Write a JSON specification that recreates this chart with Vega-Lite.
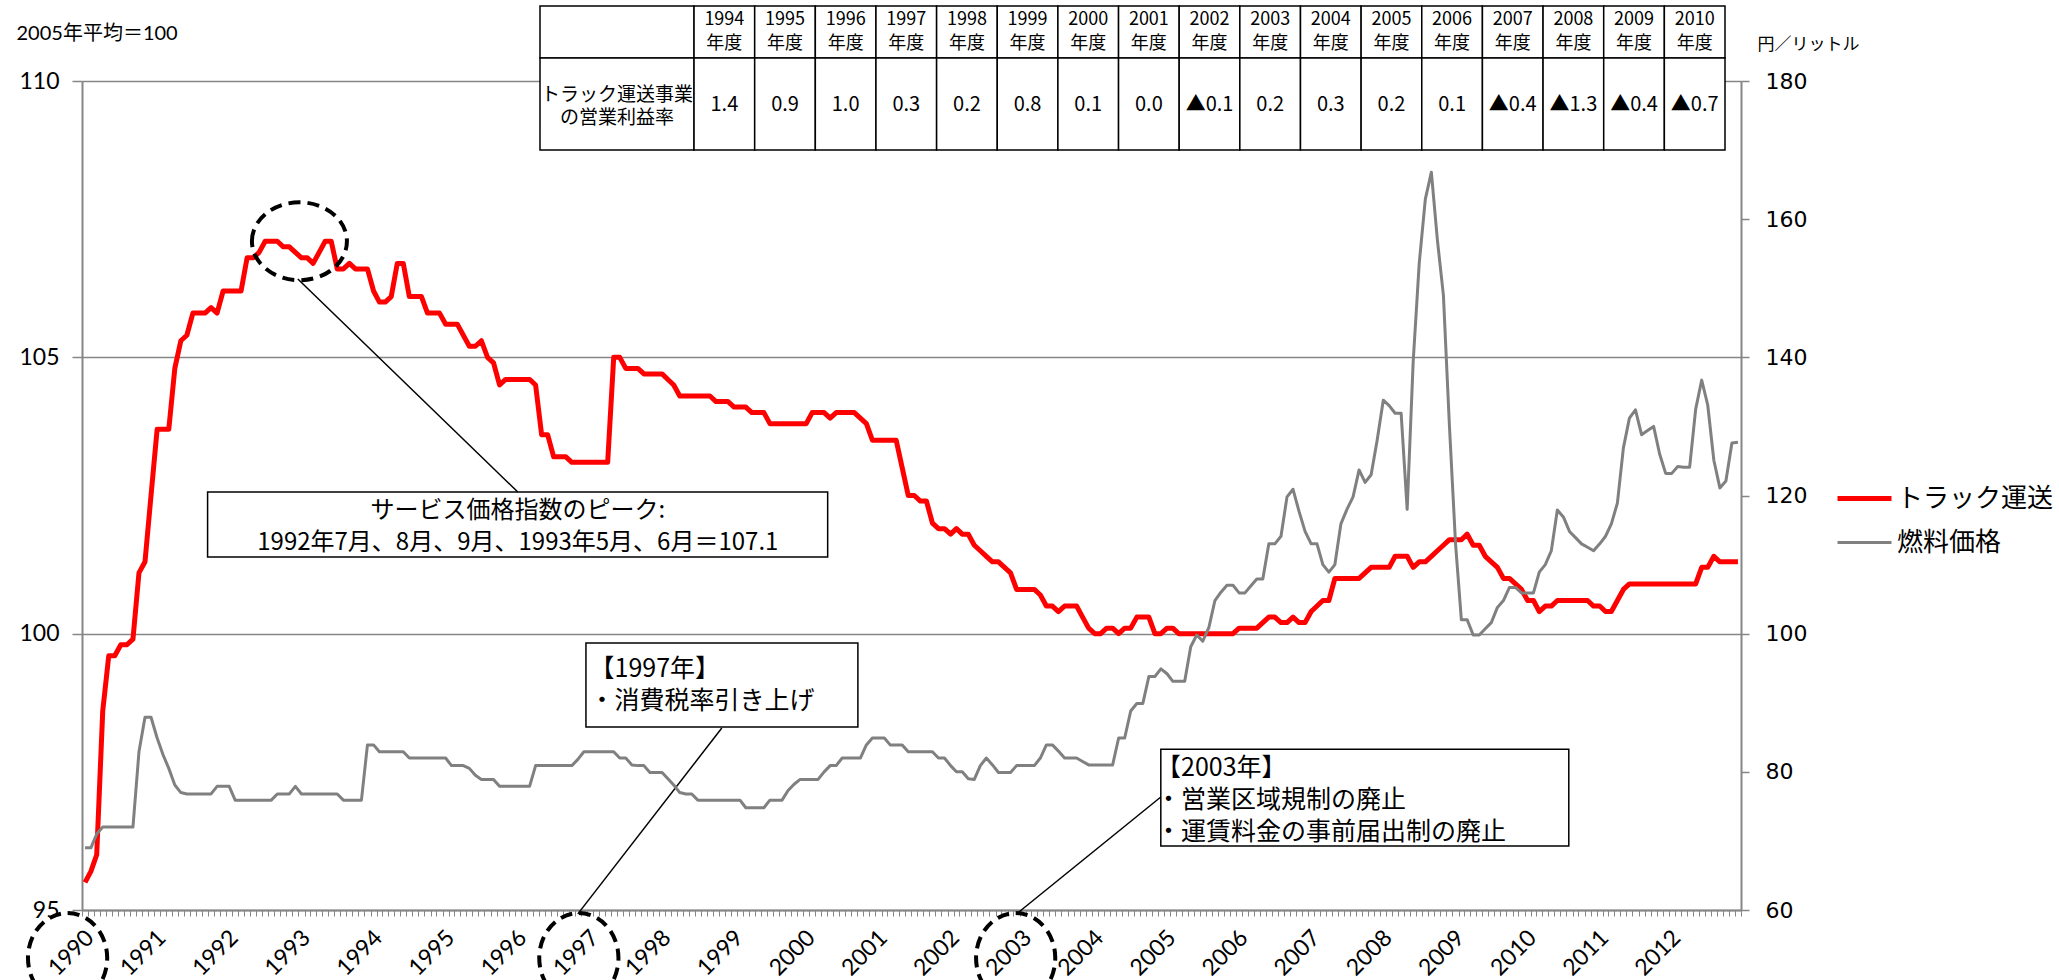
{
  "$schema": "https://vega.github.io/schema/vega-lite/v6.json",
  "width": 1659,
  "height": 829,
  "autosize": {"type": "none"},
  "padding": {"left": 82, "top": 81, "right": 318, "bottom": 70},
  "background": "#ffffff",
  "config": {"view": {"stroke": null}},
  "datasets": {
    "main": [
      {"d":"1990-01","t":95.5,"f":69.0},{"d":"1990-02","t":95.7,"f":69.0},{"d":"1990-03","t":96.0,"f":71.0},{"d":"1990-04","t":98.6,"f":72.0},{"d":"1990-05","t":99.6,"f":72.0},{"d":"1990-06","t":99.6,"f":72.0},{"d":"1990-07","t":99.8,"f":72.0},{"d":"1990-08","t":99.8,"f":72.0},{"d":"1990-09","t":99.9,"f":72.0},{"d":"1990-10","t":101.1,"f":82.9},{"d":"1990-11","t":101.3,"f":87.9},{"d":"1990-12","t":102.5,"f":87.9},
      {"d":"1991-01","t":103.7,"f":84.9},{"d":"1991-02","t":103.7,"f":82.5},{"d":"1991-03","t":103.7,"f":80.5},{"d":"1991-04","t":104.8,"f":78.1},{"d":"1991-05","t":105.3,"f":77.0},{"d":"1991-06","t":105.4,"f":76.8},{"d":"1991-07","t":105.8,"f":76.8},{"d":"1991-08","t":105.8,"f":76.8},{"d":"1991-09","t":105.8,"f":76.8},{"d":"1991-10","t":105.9,"f":76.8},{"d":"1991-11","t":105.8,"f":77.9},{"d":"1991-12","t":106.2,"f":77.9},
      {"d":"1992-01","t":106.2,"f":77.9},{"d":"1992-02","t":106.2,"f":75.9},{"d":"1992-03","t":106.2,"f":75.9},{"d":"1992-04","t":106.8,"f":75.9},{"d":"1992-05","t":106.8,"f":75.9},{"d":"1992-06","t":106.9,"f":75.9},{"d":"1992-07","t":107.1,"f":75.9},{"d":"1992-08","t":107.1,"f":75.9},{"d":"1992-09","t":107.1,"f":76.8},{"d":"1992-10","t":107.0,"f":76.8},{"d":"1992-11","t":107.0,"f":76.8},{"d":"1992-12","t":106.9,"f":77.9},
      {"d":"1993-01","t":106.8,"f":76.8},{"d":"1993-02","t":106.8,"f":76.8},{"d":"1993-03","t":106.7,"f":76.8},{"d":"1993-04","t":106.9,"f":76.8},{"d":"1993-05","t":107.1,"f":76.8},{"d":"1993-06","t":107.1,"f":76.8},{"d":"1993-07","t":106.6,"f":76.8},{"d":"1993-08","t":106.6,"f":75.9},{"d":"1993-09","t":106.7,"f":75.9},{"d":"1993-10","t":106.6,"f":75.9},{"d":"1993-11","t":106.6,"f":75.9},{"d":"1993-12","t":106.6,"f":83.9},
      {"d":"1994-01","t":106.2,"f":83.9},{"d":"1994-02","t":106.0,"f":82.9},{"d":"1994-03","t":106.0,"f":82.9},{"d":"1994-04","t":106.1,"f":82.9},{"d":"1994-05","t":106.7,"f":82.9},{"d":"1994-06","t":106.7,"f":82.9},{"d":"1994-07","t":106.1,"f":82.0},{"d":"1994-08","t":106.1,"f":82.0},{"d":"1994-09","t":106.1,"f":82.0},{"d":"1994-10","t":105.8,"f":82.0},{"d":"1994-11","t":105.8,"f":82.0},{"d":"1994-12","t":105.8,"f":82.0},
      {"d":"1995-01","t":105.6,"f":82.0},{"d":"1995-02","t":105.6,"f":80.9},{"d":"1995-03","t":105.6,"f":80.9},{"d":"1995-04","t":105.4,"f":80.9},{"d":"1995-05","t":105.2,"f":80.5},{"d":"1995-06","t":105.2,"f":79.5},{"d":"1995-07","t":105.3,"f":78.9},{"d":"1995-08","t":105.0,"f":78.9},{"d":"1995-09","t":104.9,"f":78.9},{"d":"1995-10","t":104.5,"f":77.9},{"d":"1995-11","t":104.6,"f":77.9},{"d":"1995-12","t":104.6,"f":77.9},
      {"d":"1996-01","t":104.6,"f":77.9},{"d":"1996-02","t":104.6,"f":77.9},{"d":"1996-03","t":104.6,"f":77.9},{"d":"1996-04","t":104.5,"f":80.9},{"d":"1996-05","t":103.6,"f":80.9},{"d":"1996-06","t":103.6,"f":80.9},{"d":"1996-07","t":103.2,"f":80.9},{"d":"1996-08","t":103.2,"f":80.9},{"d":"1996-09","t":103.2,"f":80.9},{"d":"1996-10","t":103.1,"f":80.9},{"d":"1996-11","t":103.1,"f":81.8},{"d":"1996-12","t":103.1,"f":82.9},
      {"d":"1997-01","t":103.1,"f":82.9},{"d":"1997-02","t":103.1,"f":82.9},{"d":"1997-03","t":103.1,"f":82.9},{"d":"1997-04","t":103.1,"f":82.9},{"d":"1997-05","t":105.0,"f":82.9},{"d":"1997-06","t":105.0,"f":82.0},{"d":"1997-07","t":104.8,"f":82.0},{"d":"1997-08","t":104.8,"f":81.0},{"d":"1997-09","t":104.8,"f":80.9},{"d":"1997-10","t":104.7,"f":80.9},{"d":"1997-11","t":104.7,"f":79.9},{"d":"1997-12","t":104.7,"f":79.9},
      {"d":"1998-01","t":104.7,"f":79.9},{"d":"1998-02","t":104.6,"f":79.0},{"d":"1998-03","t":104.5,"f":78.1},{"d":"1998-04","t":104.3,"f":77.0},{"d":"1998-05","t":104.3,"f":76.8},{"d":"1998-06","t":104.3,"f":76.8},{"d":"1998-07","t":104.3,"f":75.9},{"d":"1998-08","t":104.3,"f":75.9},{"d":"1998-09","t":104.3,"f":75.9},{"d":"1998-10","t":104.2,"f":75.9},{"d":"1998-11","t":104.2,"f":75.9},{"d":"1998-12","t":104.2,"f":75.9},
      {"d":"1999-01","t":104.1,"f":75.9},{"d":"1999-02","t":104.1,"f":75.9},{"d":"1999-03","t":104.1,"f":74.8},{"d":"1999-04","t":104.0,"f":74.8},{"d":"1999-05","t":104.0,"f":74.8},{"d":"1999-06","t":104.0,"f":74.8},{"d":"1999-07","t":103.8,"f":75.9},{"d":"1999-08","t":103.8,"f":75.9},{"d":"1999-09","t":103.8,"f":75.9},{"d":"1999-10","t":103.8,"f":77.3},{"d":"1999-11","t":103.8,"f":78.2},{"d":"1999-12","t":103.8,"f":78.9},
      {"d":"2000-01","t":103.8,"f":78.9},{"d":"2000-02","t":104.0,"f":78.9},{"d":"2000-03","t":104.0,"f":78.9},{"d":"2000-04","t":104.0,"f":80.0},{"d":"2000-05","t":103.9,"f":80.9},{"d":"2000-06","t":104.0,"f":80.9},{"d":"2000-07","t":104.0,"f":82.0},{"d":"2000-08","t":104.0,"f":82.0},{"d":"2000-09","t":104.0,"f":82.0},{"d":"2000-10","t":103.9,"f":82.0},{"d":"2000-11","t":103.8,"f":83.9},{"d":"2000-12","t":103.5,"f":84.9},
      {"d":"2001-01","t":103.5,"f":84.9},{"d":"2001-02","t":103.5,"f":84.9},{"d":"2001-03","t":103.5,"f":83.9},{"d":"2001-04","t":103.5,"f":83.9},{"d":"2001-05","t":103.0,"f":83.9},{"d":"2001-06","t":102.5,"f":82.9},{"d":"2001-07","t":102.5,"f":82.9},{"d":"2001-08","t":102.4,"f":82.9},{"d":"2001-09","t":102.4,"f":82.9},{"d":"2001-10","t":102.0,"f":82.9},{"d":"2001-11","t":101.9,"f":82.0},{"d":"2001-12","t":101.9,"f":82.0},
      {"d":"2002-01","t":101.8,"f":80.9},{"d":"2002-02","t":101.9,"f":80.0},{"d":"2002-03","t":101.8,"f":80.0},{"d":"2002-04","t":101.8,"f":79.0},{"d":"2002-05","t":101.6,"f":78.9},{"d":"2002-06","t":101.5,"f":80.9},{"d":"2002-07","t":101.4,"f":82.0},{"d":"2002-08","t":101.3,"f":81.0},{"d":"2002-09","t":101.3,"f":79.9},{"d":"2002-10","t":101.2,"f":79.9},{"d":"2002-11","t":101.1,"f":79.9},{"d":"2002-12","t":100.8,"f":80.9},
      {"d":"2003-01","t":100.8,"f":80.9},{"d":"2003-02","t":100.8,"f":80.9},{"d":"2003-03","t":100.8,"f":80.9},{"d":"2003-04","t":100.7,"f":82.0},{"d":"2003-05","t":100.5,"f":83.9},{"d":"2003-06","t":100.5,"f":83.9},{"d":"2003-07","t":100.4,"f":83.0},{"d":"2003-08","t":100.5,"f":82.0},{"d":"2003-09","t":100.5,"f":82.0},{"d":"2003-10","t":100.5,"f":82.0},{"d":"2003-11","t":100.3,"f":81.5},{"d":"2003-12","t":100.1,"f":81.0},
      {"d":"2004-01","t":100.0,"f":81.0},{"d":"2004-02","t":100.0,"f":81.0},{"d":"2004-03","t":100.1,"f":81.0},{"d":"2004-04","t":100.1,"f":81.0},{"d":"2004-05","t":100.0,"f":84.9},{"d":"2004-06","t":100.1,"f":84.9},{"d":"2004-07","t":100.1,"f":88.8},{"d":"2004-08","t":100.3,"f":89.9},{"d":"2004-09","t":100.3,"f":89.9},{"d":"2004-10","t":100.3,"f":93.8},{"d":"2004-11","t":100.0,"f":93.8},{"d":"2004-12","t":100.0,"f":94.9},
      {"d":"2005-01","t":100.1,"f":94.2},{"d":"2005-02","t":100.1,"f":93.1},{"d":"2005-03","t":100.0,"f":93.1},{"d":"2005-04","t":100.0,"f":93.1},{"d":"2005-05","t":100.0,"f":98.1},{"d":"2005-06","t":100.0,"f":99.8},{"d":"2005-07","t":100.0,"f":98.9},{"d":"2005-08","t":100.0,"f":100.9},{"d":"2005-09","t":100.0,"f":104.8},{"d":"2005-10","t":100.0,"f":106.0},{"d":"2005-11","t":100.0,"f":107.0},{"d":"2005-12","t":100.0,"f":107.0},
      {"d":"2006-01","t":100.1,"f":105.9},{"d":"2006-02","t":100.1,"f":105.9},{"d":"2006-03","t":100.1,"f":106.9},{"d":"2006-04","t":100.1,"f":107.9},{"d":"2006-05","t":100.2,"f":107.9},{"d":"2006-06","t":100.3,"f":113.0},{"d":"2006-07","t":100.3,"f":113.0},{"d":"2006-08","t":100.2,"f":114.1},{"d":"2006-09","t":100.2,"f":119.8},{"d":"2006-10","t":100.3,"f":120.9},{"d":"2006-11","t":100.2,"f":117.7},{"d":"2006-12","t":100.2,"f":114.8},
      {"d":"2007-01","t":100.4,"f":113.0},{"d":"2007-02","t":100.5,"f":113.0},{"d":"2007-03","t":100.6,"f":110.0},{"d":"2007-04","t":100.6,"f":108.9},{"d":"2007-05","t":101.0,"f":110.0},{"d":"2007-06","t":101.0,"f":115.9},{"d":"2007-07","t":101.0,"f":118.0},{"d":"2007-08","t":101.0,"f":119.8},{"d":"2007-09","t":101.0,"f":123.7},{"d":"2007-10","t":101.1,"f":121.9},{"d":"2007-11","t":101.2,"f":123.0},{"d":"2007-12","t":101.2,"f":128.0},
      {"d":"2008-01","t":101.2,"f":133.8},{"d":"2008-02","t":101.2,"f":133.0},{"d":"2008-03","t":101.4,"f":131.9},{"d":"2008-04","t":101.4,"f":131.9},{"d":"2008-05","t":101.4,"f":118.0},{"d":"2008-06","t":101.2,"f":139.4},{"d":"2008-07","t":101.3,"f":153.6},{"d":"2008-08","t":101.3,"f":162.9},{"d":"2008-09","t":101.4,"f":166.8},{"d":"2008-10","t":101.5,"f":157.0},{"d":"2008-11","t":101.6,"f":149.0},{"d":"2008-12","t":101.7,"f":130.1},
      {"d":"2009-01","t":101.7,"f":113.0},{"d":"2009-02","t":101.7,"f":102.0},{"d":"2009-03","t":101.8,"f":102.0},{"d":"2009-04","t":101.6,"f":99.8},{"d":"2009-05","t":101.6,"f":99.8},{"d":"2009-06","t":101.4,"f":100.7},{"d":"2009-07","t":101.3,"f":101.6},{"d":"2009-08","t":101.2,"f":103.8},{"d":"2009-09","t":101.0,"f":104.8},{"d":"2009-10","t":101.0,"f":106.7},{"d":"2009-11","t":100.9,"f":106.7},{"d":"2009-12","t":100.8,"f":105.9},
      {"d":"2010-01","t":100.6,"f":105.9},{"d":"2010-02","t":100.6,"f":105.9},{"d":"2010-03","t":100.4,"f":108.9},{"d":"2010-04","t":100.5,"f":110.0},{"d":"2010-05","t":100.5,"f":112.0},{"d":"2010-06","t":100.6,"f":117.9},{"d":"2010-07","t":100.6,"f":116.9},{"d":"2010-08","t":100.6,"f":114.8},{"d":"2010-09","t":100.6,"f":113.9},{"d":"2010-10","t":100.6,"f":113.0},{"d":"2010-11","t":100.6,"f":112.5},{"d":"2010-12","t":100.5,"f":112.0},
      {"d":"2011-01","t":100.5,"f":113.0},{"d":"2011-02","t":100.4,"f":114.1},{"d":"2011-03","t":100.4,"f":115.9},{"d":"2011-04","t":100.6,"f":118.9},{"d":"2011-05","t":100.8,"f":126.9},{"d":"2011-06","t":100.9,"f":131.2},{"d":"2011-07","t":100.9,"f":132.4},{"d":"2011-08","t":100.9,"f":128.8},{"d":"2011-09","t":100.9,"f":129.4},{"d":"2011-10","t":100.9,"f":130.0},{"d":"2011-11","t":100.9,"f":126.0},{"d":"2011-12","t":100.9,"f":123.2},
      {"d":"2012-01","t":100.9,"f":123.2},{"d":"2012-02","t":100.9,"f":124.2},{"d":"2012-03","t":100.9,"f":124.1},{"d":"2012-04","t":100.9,"f":124.1},{"d":"2012-05","t":100.9,"f":132.5},{"d":"2012-06","t":101.2,"f":136.7},{"d":"2012-07","t":101.2,"f":133.1},{"d":"2012-08","t":101.4,"f":125.1},{"d":"2012-09","t":101.3,"f":121.1},{"d":"2012-10","t":101.3,"f":122.1},{"d":"2012-11","t":101.3,"f":127.6},{"d":"2012-12","t":101.3,"f":127.7}
    ],
    "boxes": [
      {"x0":"1991-09-29","x1":"2000-05-04","y0":102.563,"y1":101.387},
      {"x0":"1996-12-27","x1":"2000-10-04","y0":99.83,"y1":98.31},
      {"x0":"2004-12-16","x1":"2010-08-13","y0":97.91,"y1":96.16}
    ],
    "leaders": [
      {"x0":"1992-12-29","y0":106.417,"x1":"1996-01-17","y1":102.563},
      {"x0":"1998-11-15","y0":98.293,"x1":"1996-11-16","y1":94.93},
      {"x0":"2004-12-16","y0":97.044,"x1":"2002-12-22","y1":94.946}
    ],
    "ctext": [
      {"x":"1996-01-17","y":102.22,"t":["サービス価格指数のピーク:","1992年7月、8月、9月、1993年5月、6月＝107.1"]}
    ],
    "ltext": [
      {"x":"1997-01-14","y":99.36,"t":["【1997年】","・消費税率引き上げ"]},
      {"x":"2004-11-22","y":97.57,"t":["【2003年】","・営業区域規制の廃止","・運賃料金の事前届出制の廃止"]}
    ],
    "peak": [{"x":"1993-01-06","y":107.1}],
    "yrs": [
      {"x":"1989-10-20","y":94.13},
      {"x":"1996-11-21","y":94.13},
      {"x":"2002-12-12","y":94.13}
    ],
    "tbl": [
      {"a":-2.54,"b":0,"c":-1.27,"h":"","v":["トラック運送事業","の営業利益率"]},
      {"a":0,"b":1,"c":0.5,"h":["1994","年度"],"v":"1.4"},
      {"a":1,"b":2,"c":1.5,"h":["1995","年度"],"v":"0.9"},
      {"a":2,"b":3,"c":2.5,"h":["1996","年度"],"v":"1.0"},
      {"a":3,"b":4,"c":3.5,"h":["1997","年度"],"v":"0.3"},
      {"a":4,"b":5,"c":4.5,"h":["1998","年度"],"v":"0.2"},
      {"a":5,"b":6,"c":5.5,"h":["1999","年度"],"v":"0.8"},
      {"a":6,"b":7,"c":6.5,"h":["2000","年度"],"v":"0.1"},
      {"a":7,"b":8,"c":7.5,"h":["2001","年度"],"v":"0.0"},
      {"a":8,"b":9,"c":8.5,"h":["2002","年度"],"v":"▲0.1"},
      {"a":9,"b":10,"c":9.5,"h":["2003","年度"],"v":"0.2"},
      {"a":10,"b":11,"c":10.5,"h":["2004","年度"],"v":"0.3"},
      {"a":11,"b":12,"c":11.5,"h":["2005","年度"],"v":"0.2"},
      {"a":12,"b":13,"c":12.5,"h":["2006","年度"],"v":"0.1"},
      {"a":13,"b":14,"c":13.5,"h":["2007","年度"],"v":"▲0.4"},
      {"a":14,"b":15,"c":14.5,"h":["2008","年度"],"v":"▲1.3"},
      {"a":15,"b":16,"c":15.5,"h":["2009","年度"],"v":"▲0.4"},
      {"a":16,"b":17,"c":16.5,"h":["2010","年度"],"v":"▲0.7"}
    ]
  },
  "layer": [
    {
      "layer": [
        {
          "layer": [
            {
              "data": {"name": "main"},
              "mark": {"type": "line", "strokeJoin": "round"},
              "encoding": {
                "x": {
                  "field": "d", "type": "temporal", "timeUnit": "utcyearmonth", "bandPosition": 0.5,
                  "scale": {"type": "utc", "domain": [{"year": 1990, "month": 1, "date": 1, "utc": true}, {"year": 2013, "month": 1, "date": 1, "utc": true}]},
                  "axis": {
                    "title": null,
                    "tickCount": {"interval": "month", "step": 1},
                    "labelExpr": "(utcFormat(datum.value, '%m') == '01' && utcFormat(datum.value, '%Y') != '2013') ? utcFormat(datum.value, '%Y') : ''",
                    "labelAngle": -45, "labelFont": "Lato", "labelFontSize": 23, "labelColor": "#000000",
                    "labelOverlap": false, "labelFlush": false, "labelBound": false, "labelPadding": 10,
                    "tickSize": 6, "tickColor": "#868686", "tickWidth": 1,
                    "domainColor": "#868686", "domainWidth": 2, "grid": false
                  }
                },
                "y": {
                  "field": "t", "type": "quantitative",
                  "scale": {"domain": [95, 110], "nice": false, "zero": false},
                  "axis": {
                    "title": "2005年平均＝100", "titleAngle": 0, "titleX": -66, "titleY": -48,
                    "titleAlign": "left", "titleBaseline": "middle", "titleFont": "Lato, Noto Sans CJK JP",
                    "titleFontSize": 20, "titleFontWeight": "normal", "titleColor": "#000000",
                    "values": [95, 100, 105, 110], "labelFont": "Lato", "labelFontSize": 23, "labelColor": "#000000",
                    "labelPadding": 13, "tickSize": 10, "tickColor": "#868686", "tickWidth": 1.5,
                    "domainColor": "#868686", "domainWidth": 2,
                    "grid": true, "gridColor": "#868686", "gridWidth": 1.5
                  }
                },
                "color": {
                  "datum": "トラック運送", "type": "nominal",
                  "scale": {"domain": ["トラック運送", "燃料価格"], "range": ["#ff0000", "#808080"]},
                  "legend": {
                    "orient": "none", "legendX": 1753, "legendY": 388, "title": null,
                    "labelFont": "Noto Sans CJK JP", "labelFontSize": 26, "labelColor": "#000000", "labelLimit": 400,
                    "symbolType": "stroke", "symbolSize": 2916, "rowPadding": 2, "labelOffset": 3, "padding": 0
                  }
                },
                "strokeWidth": {
                  "datum": "トラック運送", "type": "nominal",
                  "scale": {"domain": ["トラック運送", "燃料価格"], "range": [5, 3]}
                }
              }
            },
            {
              "data": {"name": "boxes"},
              "mark": {"type": "rect", "fill": "#ffffff", "stroke": "#000000", "strokeWidth": 1.5},
              "encoding": {
                "x": {"field": "x0", "type": "temporal", "scale": {"type": "utc", "domain": [{"year": 1990, "month": 1, "date": 1, "utc": true}, {"year": 2013, "month": 1, "date": 1, "utc": true}]}},
                "x2": {"field": "x1"},
                "y": {"field": "y0", "type": "quantitative", "scale": {"domain": [95, 110], "nice": false, "zero": false}},
                "y2": {"field": "y1"}
              }
            },
            {
              "data": {"name": "leaders"},
              "mark": {"type": "rule", "color": "#000000", "strokeWidth": 1.5},
              "encoding": {
                "x": {"field": "x0", "type": "temporal", "scale": {"type": "utc", "domain": [{"year": 1990, "month": 1, "date": 1, "utc": true}, {"year": 2013, "month": 1, "date": 1, "utc": true}]}},
                "x2": {"field": "x1"},
                "y": {"field": "y0", "type": "quantitative", "scale": {"domain": [95, 110], "nice": false, "zero": false}},
                "y2": {"field": "y1"}
              }
            },
            {
              "data": {"name": "ctext"},
              "mark": {"type": "text", "font": "Noto Sans CJK JP", "fontSize": 24, "align": "center", "baseline": "middle", "lineHeight": 32, "color": "#000000"},
              "encoding": {
                "x": {"field": "x", "type": "temporal", "scale": {"type": "utc", "domain": [{"year": 1990, "month": 1, "date": 1, "utc": true}, {"year": 2013, "month": 1, "date": 1, "utc": true}]}},
                "y": {"field": "y", "type": "quantitative", "scale": {"domain": [95, 110], "nice": false, "zero": false}},
                "text": {"field": "t", "type": "nominal"}
              }
            },
            {
              "data": {"name": "ltext"},
              "mark": {"type": "text", "font": "Noto Sans CJK JP", "fontSize": 25, "align": "left", "baseline": "middle", "lineHeight": 32, "color": "#000000"},
              "encoding": {
                "x": {"field": "x", "type": "temporal", "scale": {"type": "utc", "domain": [{"year": 1990, "month": 1, "date": 1, "utc": true}, {"year": 2013, "month": 1, "date": 1, "utc": true}]}},
                "y": {"field": "y", "type": "quantitative", "scale": {"domain": [95, 110], "nice": false, "zero": false}},
                "text": {"field": "t", "type": "nominal"}
              }
            },
            {
              "data": {"name": "peak"},
              "mark": {"type": "point", "shape": "M-1,0A1,0.82,0,1,1,1,0A1,0.82,0,1,1,-1,0Z", "size": 9025, "filled": false, "color": "#000000", "strokeWidth": 4, "strokeDash": [12, 7], "opacity": 1},
              "encoding": {
                "x": {"field": "x", "type": "temporal", "scale": {"type": "utc", "domain": [{"year": 1990, "month": 1, "date": 1, "utc": true}, {"year": 2013, "month": 1, "date": 1, "utc": true}]}},
                "y": {"field": "y", "type": "quantitative", "scale": {"domain": [95, 110], "nice": false, "zero": false}}
              }
            },
            {
              "data": {"name": "yrs"},
              "mark": {"type": "point", "shape": "M0,-1A0.88,1,0,1,1,0,1A0.88,1,0,1,1,0,-1Z", "size": 8100, "filled": false, "color": "#000000", "strokeWidth": 4, "strokeDash": [12, 7], "opacity": 1},
              "encoding": {
                "x": {"field": "x", "type": "temporal", "scale": {"type": "utc", "domain": [{"year": 1990, "month": 1, "date": 1, "utc": true}, {"year": 2013, "month": 1, "date": 1, "utc": true}]}},
                "y": {"field": "y", "type": "quantitative", "scale": {"domain": [95, 110], "nice": false, "zero": false}}
              }
            }
          ]
        },
        {
          "data": {"name": "main"},
          "mark": {"type": "line", "strokeJoin": "round"},
          "encoding": {
            "x": {
              "field": "d", "type": "temporal", "timeUnit": "utcyearmonth", "bandPosition": 0.5,
              "scale": {"type": "utc", "domain": [{"year": 1990, "month": 1, "date": 1, "utc": true}, {"year": 2013, "month": 1, "date": 1, "utc": true}]}
            },
            "y": {
              "field": "f", "type": "quantitative",
              "scale": {"domain": [60, 180], "nice": false, "zero": false},
              "axis": {
                "orient": "right", "title": "円／リットル", "titleAngle": 0, "titleX": 16, "titleY": -37,
                "titleAlign": "left", "titleBaseline": "middle", "titleFont": "Noto Sans CJK JP",
                "titleFontSize": 17, "titleFontWeight": "normal", "titleColor": "#000000",
                "values": [60, 80, 100, 120, 140, 160, 180], "labelFont": "DejaVu Sans", "labelFontSize": 22,
                "labelColor": "#000000", "labelPadding": 16, "tickSize": 8, "tickColor": "#868686", "tickWidth": 1.5,
                "domainColor": "#868686", "domainWidth": 2, "grid": false
              }
            },
            "color": {
              "datum": "燃料価格", "type": "nominal",
              "scale": {"domain": ["トラック運送", "燃料価格"], "range": ["#ff0000", "#808080"]}
            },
            "strokeWidth": {
              "datum": "燃料価格", "type": "nominal",
              "scale": {"domain": ["トラック運送", "燃料価格"], "range": [5, 3]}
            }
          }
        }
      ],
      "resolve": {"scale": {"y": "independent"}}
    },
    {
      "data": {"name": "tbl"},
      "layer": [
        {
          "mark": {"type": "rect", "fill": "#ffffff", "stroke": "#000000", "strokeWidth": 1.5},
          "encoding": {
            "x": {"field": "a", "type": "quantitative", "scale": {"domain": [-2.54, 17], "range": [458, 1643], "nice": false, "zero": false}, "axis": null},
            "x2": {"field": "b"},
            "y": {"datum": 0, "type": "quantitative", "scale": {"domain": [0, 2.77], "range": [-75, 69], "nice": false, "zero": false}, "axis": null},
            "y2": {"datum": 1}
          }
        },
        {
          "mark": {"type": "rect", "fill": "#ffffff", "stroke": "#000000", "strokeWidth": 1.5},
          "encoding": {
            "x": {"field": "a", "type": "quantitative", "scale": {"domain": [-2.54, 17], "range": [458, 1643], "nice": false, "zero": false}, "axis": null},
            "x2": {"field": "b"},
            "y": {"datum": 1, "type": "quantitative", "scale": {"domain": [0, 2.77], "range": [-75, 69], "nice": false, "zero": false}, "axis": null},
            "y2": {"datum": 2.77}
          }
        },
        {
          "mark": {"type": "text", "font": "Noto Sans CJK JP", "fontSize": 18, "align": "center", "baseline": "middle", "lineHeight": 24, "color": "#000000"},
          "encoding": {
            "x": {"field": "c", "type": "quantitative", "scale": {"domain": [-2.54, 17], "range": [458, 1643], "nice": false, "zero": false}, "axis": null},
            "y": {"datum": 0.27, "type": "quantitative", "scale": {"domain": [0, 2.77], "range": [-75, 69], "nice": false, "zero": false}, "axis": null},
            "text": {"field": "h", "type": "nominal"}
          }
        },
        {
          "transform": [{"filter": "datum.a >= 0"}],
          "mark": {"type": "text", "font": "Noto Sans CJK JP", "fontSize": 20, "align": "center", "baseline": "middle", "color": "#000000"},
          "encoding": {
            "x": {"field": "c", "type": "quantitative", "scale": {"domain": [-2.54, 17], "range": [458, 1643], "nice": false, "zero": false}, "axis": null},
            "y": {"datum": 1.905, "type": "quantitative", "scale": {"domain": [0, 2.77], "range": [-75, 69], "nice": false, "zero": false}, "axis": null},
            "text": {"field": "v", "type": "nominal"}
          }
        },
        {
          "transform": [{"filter": "datum.a < 0"}],
          "mark": {"type": "text", "font": "Noto Sans CJK JP", "fontSize": 19, "align": "center", "baseline": "middle", "lineHeight": 23, "color": "#000000"},
          "encoding": {
            "x": {"field": "c", "type": "quantitative", "scale": {"domain": [-2.54, 17], "range": [458, 1643], "nice": false, "zero": false}, "axis": null},
            "y": {"datum": 1.703, "type": "quantitative", "scale": {"domain": [0, 2.77], "range": [-75, 69], "nice": false, "zero": false}, "axis": null},
            "text": {"field": "v", "type": "nominal"}
          }
        }
      ]
    }
  ],
  "resolve": {"scale": {"x": "independent", "y": "independent"}}
}
